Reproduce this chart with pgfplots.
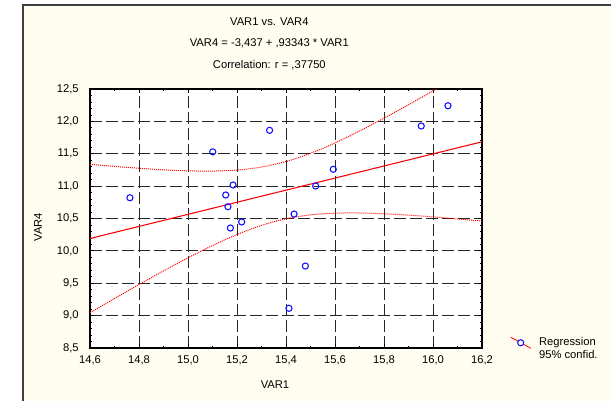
\documentclass[border=0pt]{standalone}
\usepackage{fontspec}
\setmainfont{Liberation Sans}
\usepackage{pgfplots}
\usepackage{pgfplotstable}
\pgfplotsset{compat=1.18}

\definecolor{bgcream}{HTML}{FFFDF0}
\definecolor{framegray}{HTML}{404040}
\definecolor{ptblue}{HTML}{1010FF}

% observed points (VAR1, VAR4)
\pgfplotstableread{
x      y
14.763 10.820
15.101 11.530
15.333 11.862
15.154 10.863
15.184 11.017
15.163 10.682
15.173 10.353
15.219 10.446
15.433 10.569
15.593 11.260
15.521 11.002
15.952 11.929
16.061 12.242
15.479 9.766
15.412 9.113
}\pointdata

% 95% confidence band of the regression line
\pgfplotstableread{
x     lo     hi
14.6  9.045  11.337
14.7  9.264  11.305
14.8  9.480  11.276
14.9  9.690  11.252
15.0  9.893  11.236
15.1  10.083 11.233
15.2  10.253 11.249
15.3  10.394 11.295
15.4  10.496 11.380
15.5  10.556 11.507
15.6  10.582 11.667
15.7  10.585 11.851
15.8  10.573 12.050
15.9  10.552 12.257
16.0  10.525 12.471
16.1  10.493 12.689
16.2  10.460 12.910
}\banddata

\begin{document}
\begin{tikzpicture}[font=\fontsize{8.4}{10}\selectfont]
\fill[white] (0,0) rectangle (458.25pt,300.75pt);
\fill[bgcream] (17.25pt,0) rectangle (458.25pt,297pt);
\draw[framegray, line width=1.2pt] (17.25pt,0) -- (17.25pt,297pt) -- (458.25pt,297pt);

\begin{axis}[
  at={(67.5pt,39.75pt)}, anchor=south west,
  width=294pt, height=194.25pt, scale only axis,
  xmin=14.6, xmax=16.2, ymin=8.5, ymax=12.5,
  xtick={14.6,14.8,15.0,15.2,15.4,15.6,15.8,16.0,16.2},
  ytick={8.5,9.0,9.5,10.0,10.5,11.0,11.5,12.0,12.5},
  minor x tick num=1, minor y tick num=4,
  tick align=inside,
  major tick length=3pt, minor tick length=1.8pt,
  tick style={black, line width=0.6pt},
  axis line style={black, line width=0.9pt},
  axis background/.style={fill=white},
  grid=major,
  major grid style={black!85, line width=0.75pt, dash pattern=on 9pt off 3pt},
  /pgf/number format/.cd, use comma, fixed, fixed zerofill, precision=1, assume math mode=true,
  /pgfplots/.cd,
  yticklabel style={xshift=-5pt},
  xticklabel style={yshift=-2pt},
  legend style={at={(1.0715,0.048)}, anchor=north west, draw=none, fill=none,
    inner sep=0pt, nodes={inner sep=1pt},
    /tikz/every odd column/.append style={column sep=5pt}},
  legend cell align=left,
]
\addplot[forget plot, red, line width=0.8pt]
  coordinates {(14.6,10.1911) (16.2,11.6846)};
\addplot[forget plot, red, line width=0.75pt, dash pattern=on 0.75pt off 0.75pt, smooth]
  table[x=x, y=hi] {\banddata};
\addplot[forget plot, red, line width=0.75pt, dash pattern=on 0.75pt off 0.75pt, smooth]
  table[x=x, y=lo] {\banddata};
\addplot[only marks, mark=o, ptblue, mark size=2.3pt, line width=0.8pt,
  legend image code/.code={
    \draw[red, line width=0.6pt] (0pt,3.75pt) -- (15pt,-4.5pt);
    \draw[ptblue, line width=0.8pt, fill=white] (7.5pt,-0.4pt) circle (2.3pt);
  }]
  table[x=x, y=y] {\pointdata};
\addlegendentry{Regression}
\addlegendimage{empty legend}
\addlegendentry{95\% confid.}
\end{axis}

\node at (202pt,284.5pt) {VAR1 vs. VAR4};
\node at (202pt,268.5pt) {VAR4 = -3,437 + ,93343 * VAR1};
\node at (202pt,252pt) {Correlation: r = ,37750};
\node at (206.25pt,12pt) {VAR1};
\node[rotate=90] at (28.5pt,130.5pt) {VAR4};

\pgfresetboundingbox
\useasboundingbox (0,0) rectangle (458.25pt,300.75pt);
\end{tikzpicture}
\end{document}
